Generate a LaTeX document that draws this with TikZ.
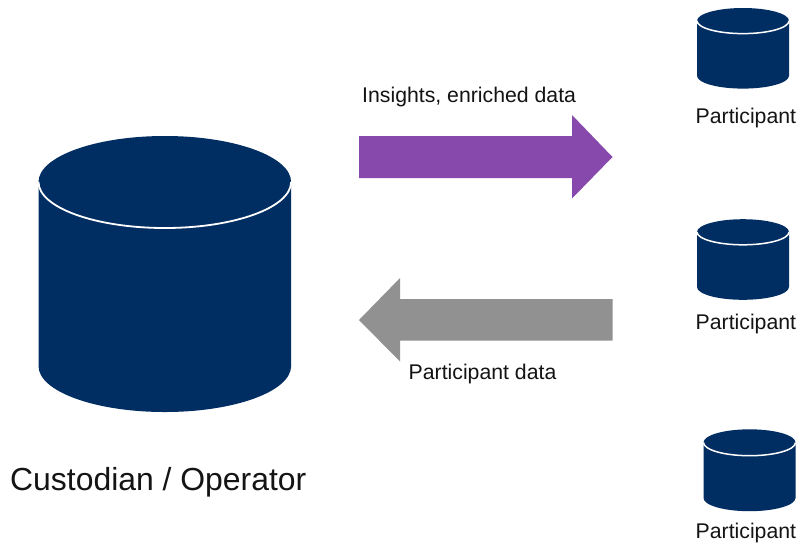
\documentclass[tikz,border=0pt]{standalone}
\usepackage{fontspec}
\setmainfont{Liberation Sans}
\definecolor{navy}{RGB}{0,45,98}
\definecolor{purp}{RGB}{136,73,173}
\definecolor{grayarrow}{RGB}{145,145,145}
\definecolor{txt}{RGB}{20,20,20}
\tikzset{
  lab/.style={inner sep=0pt,text=txt,font=\fontsize{21.25}{24}\selectfont,anchor=base west},
  biglab/.style={inner sep=0pt,text=txt,font=\fontsize{31.9}{38}\selectfont,anchor=base west},
  pics/drum/.style n args={4}{code={%
    % #1 half width, #2 vertical radius, #3 body height, #4 rim width; origin at centre of top ellipse
    \fill[navy] (-#1,0) -- (-#1,#3) arc[start angle=180,end angle=360,x radius=#1,y radius=#2]
       -- (#1,0) arc[start angle=0,end angle=180,x radius=#1,y radius=#2] -- cycle;
    \draw[white,line width=#4] (-#1,0) arc[start angle=180,end angle=360,x radius=#1,y radius=#2];
  }}
}
\begin{document}
\begin{tikzpicture}[x=1pt,y=-1pt]
\useasboundingbox (0,0) rectangle (800,542);
\fill[white] (0,0) rectangle (800,542);
\pic at (164.8,182) {drum={126.3}{-46}{184}{1.8pt}};
\pic at (743,20.8) {drum={46}{-12.8}{55}{1.5pt}};
\pic at (743,232) {drum={46}{-12.8}{55}{1.5pt}};
\pic at (749.5,442.5) {drum={46}{-13.2}{55.5}{1.5pt}};
\fill[purp] (359,136) -- (572,136) -- (572,115) -- (612.5,157) -- (572,198.5) -- (572,178) -- (359,178) -- cycle;
\fill[grayarrow] (612.5,299) -- (400,299) -- (400,278) -- (359,320) -- (400,361.5) -- (400,340.5) -- (612.5,340.5) -- cycle;
\node[lab] (insights) at (362,102.5) {Insights, enriched data};
\node[lab] (pdata) at (408.5,379.5) {Participant data};
\node[biglab] (custodian) at (10,490.5) {Custodian / Operator};
\node[lab] (p1) at (695.5,123) {Participant};
\node[lab] (p2) at (695.5,329.5) {Participant};
\node[lab] (p3) at (695.5,538) {Participant};
\end{tikzpicture}
\end{document}
